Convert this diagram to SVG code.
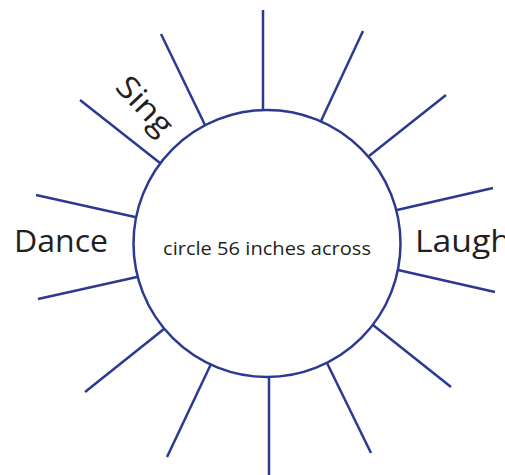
<svg xmlns="http://www.w3.org/2000/svg" width="505" height="475" viewBox="0 0 505 475">
<style>
.ray{stroke:#2b3990;stroke-width:2.5;fill:none;stroke-linecap:butt}
.hand{font-family:"Open Sans","DejaVu Sans",sans-serif;font-size:31px;fill:#231f20}
.lbl{font-family:"Open Sans","Liberation Sans",sans-serif;font-size:18.5px;fill:#231f20}
</style>
<rect width="505" height="475" fill="#fff"/>
<g id="connectors">
<line class="ray" x1="263" y1="10" x2="263" y2="110"/>
<line class="ray" x1="161" y1="34" x2="205" y2="125"/>
<line class="ray" x1="80" y1="100" x2="160" y2="163"/>
<line class="ray" x1="36" y1="195" x2="135" y2="217"/>
<line class="ray" x1="363" y1="31" x2="321" y2="121"/>
<line class="ray" x1="446" y1="95" x2="369" y2="156"/>
<line class="ray" x1="493" y1="188" x2="397" y2="210"/>
<line class="ray" x1="137" y1="277" x2="38" y2="299"/>
<line class="ray" x1="164" y1="329" x2="85" y2="392"/>
<line class="ray" x1="211" y1="364" x2="167" y2="457"/>
<line class="ray" x1="269" y1="377" x2="269" y2="475"/>
<line class="ray" x1="327" y1="363" x2="371" y2="453"/>
<line class="ray" x1="373" y1="325" x2="451" y2="387"/>
<line class="ray" x1="398" y1="270" x2="495" y2="292"/>
</g>
<g id="circle">
<circle cx="267" cy="243.5" r="133.5" fill="#fff" stroke="#2b3990" stroke-width="2.5"/>
<text class="lbl" x="267" y="255" text-anchor="middle" textLength="208" lengthAdjust="spacingAndGlyphs">circle 56 inches across</text>
</g>
<g id="dance">
<text class="hand" x="14" y="252" textLength="94" lengthAdjust="spacingAndGlyphs">Dance</text>
</g>
<g id="laugh">
<text class="hand" x="415" y="252" textLength="96" lengthAdjust="spacingAndGlyphs">Laugh</text>
</g>
<g id="sing">
<text class="hand" transform="translate(114,88) rotate(47)" textLength="68" lengthAdjust="spacingAndGlyphs">Sing</text>
</g>
</svg>
